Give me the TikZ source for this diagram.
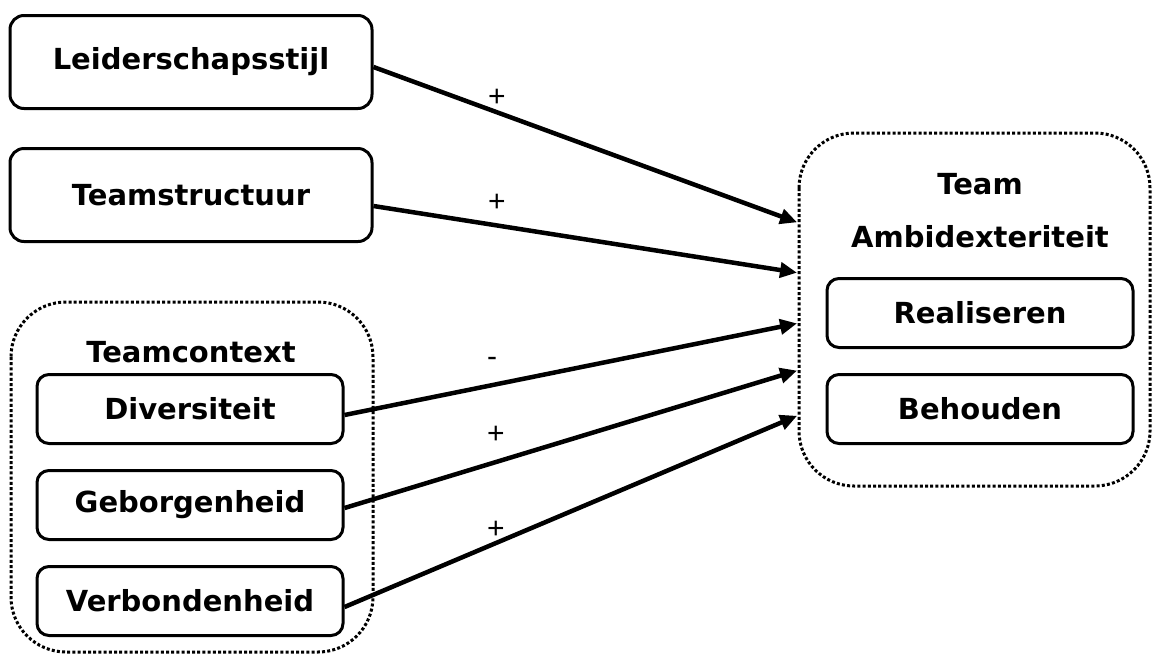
\documentclass[tikz,border=0pt]{standalone}
\usepackage{fontspec}
\setmainfont{DejaVu Sans}
\newfontfamily\labfont{Liberation Sans}
\usetikzlibrary{arrows.meta,calc}
\tikzset{
  box/.style={draw, line width=3pt, rounded corners=14pt, minimum width=362pt, minimum height=93pt, font=\fontsize{29}{34}\selectfont\bfseries, inner sep=0pt},
  subbox/.style={box, minimum width=306pt, minimum height=69pt, rounded corners=12pt},
  group/.style={line width=3pt, dash pattern=on 3pt off 2.2pt, rounded corners=55pt},
  title/.style={font=\fontsize{29}{34}\selectfont\bfseries, inner sep=0pt},
  conn/.style={line width=4.5pt, -{Triangle[length=17pt,width=15pt]}, shorten >=2pt},
  sign/.style={font=\labfont\fontsize{30}{32}\selectfont, inner sep=0pt}
}
\begin{document}
\begin{tikzpicture}[x=1pt,y=-1pt]
\useasboundingbox (0,0) rectangle (1155,657);
% groups
\draw[group] (11,302) rectangle (373,652);
\draw[group] (799,133) rectangle (1150,486);
% left boxes
\node[box] (lead) at (191,62) {Leiderschapsstijl};
\node[box] (struct) at (191,195) {Teamstructuur};
\node[title] (ctx) at (191,352) {Teamcontext};
\node[subbox] (div) at (190,409) {Diversiteit};
\node[subbox] (geb) at (190,505) {Geborgenheid};
\node[subbox] (ver) at (190,601) {Verbondenheid};
% right
\node[title] (team) at (980,184) {Team};
\node[title] (amb) at (980,237) {Ambidexteriteit};
\node[subbox] (real) at (980,313) {Realiseren};
\node[subbox] (beh) at (980,409) {Behouden};
% arrow ends
\coordinate (e1) at (799,223);
\coordinate (e2) at (799,273);
\coordinate (e3) at (799,323);
\coordinate (e4) at (799,370);
\coordinate (e5) at (799,415);
\draw[conn] ($(lead.east)+(0,5)$) -- (e1);
\draw[conn] ($(struct.east)+(0,11)$) -- (e2);
\draw[conn] ($(div.east)+(0,6)$) -- (e3);
\draw[conn] ($(geb.east)+(0,3)$) -- (e4);
\draw[conn] ($(ver.east)+(0,6)$) -- (e5);
% signs
\node[sign] (s1) at (497,98) {+};
\node[sign] (s2) at (497,203) {+};
\node[sign] (s3) at (492,362) {-};
\node[sign] (s4) at (496,435) {+};
\node[sign] (s5) at (496,530) {+};
\end{tikzpicture}
\end{document}
